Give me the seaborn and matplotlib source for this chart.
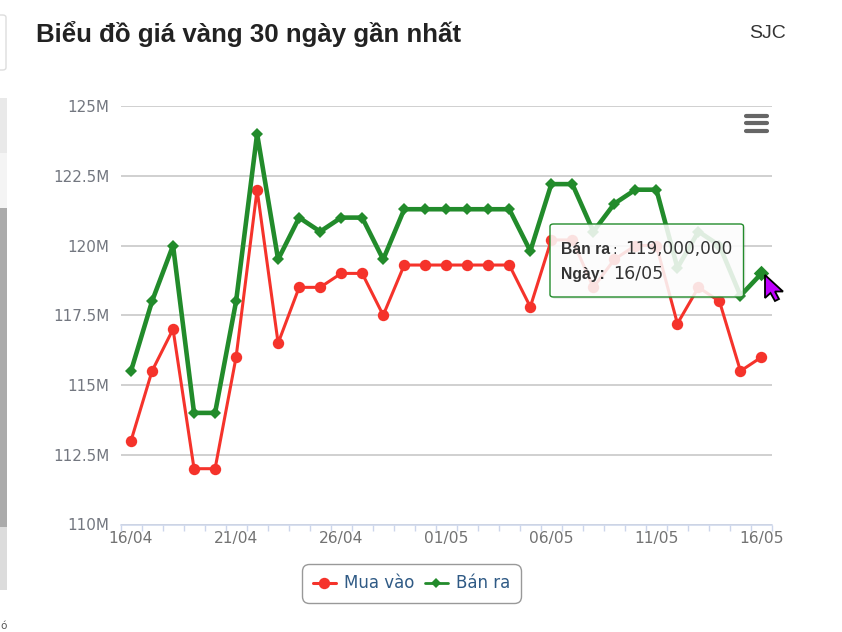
import pandas as pd
import seaborn as sns
import matplotlib.pyplot as plt
from matplotlib.lines import Line2D
from matplotlib.patches import FancyBboxPatch, Polygon, Rectangle

dates = ['16/04', '17/04', '18/04', '19/04', '20/04', '21/04', '22/04', '23/04',
         '24/04', '25/04', '26/04', '27/04', '28/04', '29/04', '30/04', '01/05',
         '02/05', '03/05', '04/05', '05/05', '06/05', '07/05', '08/05', '09/05',
         '10/05', '11/05', '12/05', '13/05', '14/05', '15/05', '16/05']
buy = [113, 115.5, 117, 112, 112, 116, 122, 116.5, 118.5, 118.5, 119, 119, 117.5,
       119.3, 119.3, 119.3, 119.3, 119.3, 119.3, 117.8, 120.2, 120.2, 118.5, 119.5,
       120, 120, 117.2, 118.5, 118, 115.5, 116]
sell = [115.5, 118, 120, 114, 114, 118, 124, 119.5, 121, 120.5, 121, 121, 119.5,
        121.3, 121.3, 121.3, 121.3, 121.3, 121.3, 119.8, 122.2, 122.2, 120.5, 121.5,
        122, 122, 119.2, 120.5, 120, 118.2, 119]
y_ticks = [110, 112.5, 115, 117.5, 120, 122.5, 125]
y_labels = ['110M', '112.5M', '115M', '117.5M', '120M', '122.5M', '125M']

W, H = 842, 632
RED = '#f5332b'
GREEN = '#228b2b'

sns.set_theme(style='white')
plt.rcParams['font.family'] = ['DejaVu Sans']

df = pd.DataFrame({'day': list(range(len(dates))) * 2,
                   'price': buy + sell,
                   'series': ['Mua vào'] * len(buy) + ['Bán ra'] * len(sell)})

fig = plt.figure(figsize=(W / 100, H / 100), dpi=100, facecolor='white')
ax = fig.add_axes([120.5 / W, 1 - 524.5 / H, 651.5 / W, 418.5 / H])


def fx(x):
    return x / W


def fy(y):
    return 1 - y / H


sns.lineplot(data=df, x='day', y='price', hue='series', style='series', ax=ax,
             palette={'Mua vào': RED, 'Bán ra': GREEN},
             markers={'Mua vào': 'o', 'Bán ra': 'D'},
             dashes=False, markeredgewidth=0, legend=False, zorder=3)
ax.lines[0].set(linewidth=2.2, markersize=8.2)
ax.lines[1].set(linewidth=3.3, markersize=6.6)

# hovered point
sns.scatterplot(x=[len(sell) - 1], y=[sell[-1]], ax=ax, color=GREEN, marker='D',
                s=62, linewidth=0, zorder=6, clip_on=False, legend=False)

ax.set_xlim(-0.5, len(dates) - 0.5)
ax.set_ylim(110, 125)
ax.set_xlabel('')
ax.set_ylabel('')
ax.set_yticks(y_ticks)
ax.set_yticklabels(y_labels, color='#737780', fontsize=10.9)
ax.set_xticks(range(0, len(dates), 5))
ax.set_xticklabels(dates[::5], color='#737373', fontsize=11.2)
ax.set_xticks([i - 0.5 for i in range(len(dates) + 1)], minor=True)
ax.tick_params(axis='x', which='major', length=0, pad=4.5)
ax.tick_params(axis='x', which='minor', length=4.5, width=1, color='#ccd6eb',
               direction='out', bottom=True)
ax.tick_params(axis='y', length=0, pad=8)
ax.grid(axis='y', color='#c4c4c4', linewidth=1.1)
ax.set_axisbelow(True)
sns.despine(ax=ax, left=True, top=True, right=True)
ax.spines['bottom'].set(color='#ccd6eb', linewidth=1.1)
ax.patch.set_alpha(0)

# legend
handles = [Line2D([], [], color=RED, lw=2.2, marker='o', ms=8.2, mew=0, label='Mua vào'),
           Line2D([], [], color=GREEN, lw=2, marker='D', ms=5.6, mew=0, label='Bán ra')]
leg = fig.legend(handles=handles, loc='center', bbox_to_anchor=(fx(411.5), fy(583.5)), ncol=2,
                 fontsize=12, labelcolor='#2f5a85', frameon=True, fancybox=True,
                 edgecolor='#999999', facecolor='white', framealpha=1, handlelength=1.4,
                 columnspacing=0.6, handletextpad=0.5, borderpad=0.65, borderaxespad=0)
leg.get_frame().set_boxstyle('round', pad=0, rounding_size=0.45)

# header
fig.text(fx(36), fy(42), 'Biểu đồ giá vàng 30 ngày gần nhất', family='Liberation Sans',
         fontweight='bold', fontsize=18.6, color='#222222', va='baseline')
fig.text(fx(749), fy(38), 'SJC', family='Liberation Sans', fontsize=14, color='#333333', va='baseline')
fig.text(0, fy(631), 'ó', fontsize=7.5, color='#555555', va='bottom')

# export menu icon
for y in [116, 123.3, 130.7]:
    fig.add_artist(Line2D([fx(746), fx(767)], [fy(y), fy(y)], color='#666666', lw=3,
                          solid_capstyle='round', zorder=7))

# page furniture on the left
fig.add_artist(FancyBboxPatch((fx(-8), fy(70)), 14 / W, 55 / H, boxstyle='round,pad=0,rounding_size=0.004',
                              fc='white', ec='#dddddd', lw=1))
for top, bot, col in [(98, 153, '#e9e9e9'), (153, 208, '#f4f4f4'), (208, 527, '#ababab'),
                      (527, 590, '#dcdcdc')]:
    fig.add_artist(Rectangle((0, fy(bot)), 6.5 / W, (bot - top) / H, fc=col, ec='none'))

# tooltip
fig.add_artist(FancyBboxPatch((fx(552), fy(299)), 193.5 / W, 73 / H,
                              boxstyle='round,pad=0,rounding_size=0.004', fc='#888888',
                              alpha=0.15, ec='none', zorder=8,
                              transform=fig.transFigure))
fig.add_artist(FancyBboxPatch((fx(550), fy(297)), 193.5 / W, 73 / H,
                              boxstyle='round,pad=0,rounding_size=0.004', fc=(1, 1, 1, 0.85),
                              ec=GREEN, lw=1, zorder=9, transform=fig.transFigure))
tt = dict(color='#333333', va='baseline', zorder=10)
fig.text(fx(561), fy(254), 'Bán ra', family='Liberation Sans', fontweight='bold', fontsize=11.3, **tt)
fig.text(fx(612), fy(254), ':', fontsize=10, **tt)
fig.text(fx(625), fy(254), '119,000,000', fontsize=12.2, **tt)
fig.text(fx(561), fy(279), 'Ngày:', family='Liberation Sans', fontweight='bold', fontsize=11.3, **tt)
fig.text(fx(613), fy(279), '16/05', fontsize=12.6, **tt)

# mouse cursor
cursor_px = [(765, 275), (765, 298), (770.5, 293), (775, 301), (779, 299), (775, 291.5), (783, 291.5)]
fig.add_artist(Polygon([(fx(a), fy(b)) for a, b in cursor_px], closed=True, fc='#c000ff',
                       ec='black', lw=1.3, zorder=11, transform=fig.transFigure))

fig.savefig('out.png', dpi=100)
